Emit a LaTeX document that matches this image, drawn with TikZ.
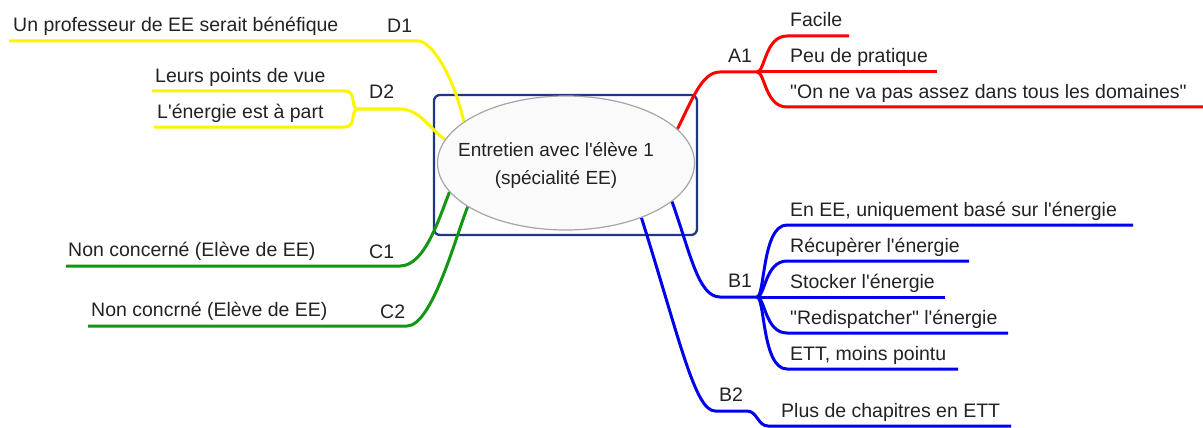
\documentclass[tikz,border=0pt]{standalone}
\usepackage{fontspec}
\setmainfont{Liberation Sans}[Ligatures=TeXOff]
\usetikzlibrary{shapes.geometric,backgrounds}
\definecolor{cyel}{RGB}{250,245,0}
\definecolor{cred}{RGB}{255,0,0}
\definecolor{cgrn}{RGB}{20,150,20}
\definecolor{cblu}{RGB}{0,0,240}
\definecolor{cframe}{RGB}{30,55,135}
\definecolor{cellb}{RGB}{165,165,165}
\definecolor{cellf}{RGB}{250,250,250}
\definecolor{ctxt}{RGB}{34,34,34}
\tikzset{
  txt/.style={inner sep=0pt, anchor=base west, text=ctxt, font=\fontsize{19.5}{23}\selectfont},
  ctxtstyle/.style={inner sep=0pt, anchor=base, text=ctxt, font=\fontsize{19}{23}\selectfont},
  branch/.style={line width=3pt},
  yb/.style={branch, draw=cyel},
  rb/.style={branch, draw=cred},
  gb/.style={branch, draw=cgrn},
  bb/.style={branch, draw=cblu},
  rootell/.style={ellipse, draw=cellb, fill=cellf, line width=1.2pt, minimum width=257pt, minimum height=134pt, inner sep=0pt},
  framebox/.style={draw=cframe, line width=2.3pt, rounded corners=6pt, minimum width=263pt, minimum height=140pt, inner sep=0pt}
}
\begin{document}
\begin{tikzpicture}[x=1pt,y=-1pt]
\useasboundingbox (0,0) rectangle (1203,428);

% central topic
\node[rootell] (root) at (566,163) {};
\node[ctxtstyle] (rootA) at (556,157) {Entretien avec l'élève 1};
\node[ctxtstyle] (rootB) at (556,184) {(spécialité EE)};

% texts left
\node[txt] (tD1a) at (13,32) {Un professeur de EE serait bénéfique};
\node[txt] (lD1) at (387,33) {D1};
\node[txt] (tD2a) at (155,82) {Leurs points de vue};
\node[txt] (tD2b) at (157,118) {L'énergie est à part};
\node[txt] (lD2) at (369,99) {D2};
\node[txt] (tC1) at (68,256) {Non concerné (Elève de EE)};
\node[txt] (lC1) at (369,258) {C1};
\node[txt] (tC2) at (91,316) {Non concrné (Elève de EE)};
\node[txt] (lC2) at (380,318) {C2};

% texts right
\node[txt] (lA1) at (728,63) {A1};
\node[txt] (tA1a) at (790,27) {Facile};
\node[txt] (tA1b) at (790,63) {Peu de pratique};
\node[txt] (tA1c) at (790,99) {"On ne va pas assez dans tous les domaines"};
\node[txt] (lB1) at (728,287) {B1};
\node[txt] (tB1a) at (790,216) {En EE, uniquement basé sur l'énergie};
\node[txt] (tB1b) at (790,252) {Récupèrer l'énergie};
\node[txt] (tB1c) at (790,288) {Stocker l'énergie};
\node[txt] (tB1d) at (790,324) {"Redispatcher" l'énergie};
\node[txt] (tB1e) at (790,360) {ETT, moins pointu};
\node[txt] (lB2) at (719,401) {B2};
\node[txt] (tB2a) at (781,417) {Plus de chapitres en ETT};

% coordinates
\coordinate (d1e) at (418,41); \coordinate (d1s) at (9,41);
\coordinate (d2e) at (400,109); \coordinate (d2j) at (358,109);
\coordinate (d2a) at (345,91); \coordinate (d2as) at (152,91);
\coordinate (d2b) at (345,127); \coordinate (d2bs) at (154,127);
\coordinate (c1e) at (400,266); \coordinate (c1s) at (66,266);
\coordinate (c2e) at (407,326); \coordinate (c2s) at (88,326);
\coordinate (a1e) at (720,72); \coordinate (a1j) at (757,72);
\coordinate (a1a) at (787,36); \coordinate (a1ae) at (849,36);
\coordinate (a1be) at (937,72);
\coordinate (a1c) at (787,107); \coordinate (a1ce) at (1203,107);
\coordinate (b1e) at (720,297); \coordinate (b1j) at (757,297);
\coordinate (b1a) at (787,225); \coordinate (b1ae) at (1133,225);
\coordinate (b1b) at (787,261); \coordinate (b1be) at (969,261);
\coordinate (b1ce) at (945,297);
\coordinate (b1d) at (787,333); \coordinate (b1de) at (1008,333);
\coordinate (b1f) at (787,369); \coordinate (b1fe) at (958,369);
\coordinate (b2e) at (715,411); \coordinate (b2k) at (747,411);
\coordinate (b2s) at (768,426); \coordinate (b2se) at (1011,426);

\begin{scope}[on background layer]
\node[framebox] (frame) at (565.5,165) {};
% D1
\draw[yb] (root.158) .. controls +(-10,-45) and +(14,0) .. (d1e) -- (d1s);
% D2
\draw[yb] (root.169) .. controls +(-15,-10) and +(20,0) .. (d2e) -- (d2j);
\draw[yb] (d2j) .. controls +(-8,0) and +(12,0) .. (d2a) -- (d2as);
\draw[yb] (d2j) .. controls +(-8,0) and +(12,0) .. (d2b) -- (d2bs);
% C1, C2
\draw[gb] (root.194) .. controls +(-10,25) and +(25,0) .. (c1e) -- (c1s);
\draw[gb] (root.204.5) .. controls +(-12,30) and +(25,0) .. (c2e) -- (c2s);
% A1
\draw[rb] (root.17.5) .. controls +(15,-30) and +(-18,0) .. (a1e) -- (a1j);
\draw[rb] (a1j) .. controls +(8,0) and +(-22,0) .. (a1a) -- (a1ae);
\draw[rb] (a1j) -- (a1be);
\draw[rb] (a1j) .. controls +(8,0) and +(-22,0) .. (a1c) -- (a1ce);
% B1
\draw[bb] (root.-20) .. controls +(18,50) and +(-22,0) .. (b1e) -- (b1j);
\draw[bb] (b1j) .. controls +(8,0) and +(-25,0) .. (b1a) -- (b1ae);
\draw[bb] (b1j) .. controls +(8,0) and +(-22,0) .. (b1b) -- (b1be);
\draw[bb] (b1j) -- (b1ce);
\draw[bb] (b1j) .. controls +(8,0) and +(-22,0) .. (b1d) -- (b1de);
\draw[bb] (b1j) .. controls +(8,0) and +(-25,0) .. (b1f) -- (b1fe);
% B2
\draw[bb] (root.-36) .. controls +(38,121) and +(-20,0) .. (b2e) -- (b2k)
  .. controls +(10,0) and +(-10,0) .. (b2s) -- (b2se);
\end{scope}
\end{tikzpicture}
\end{document}
